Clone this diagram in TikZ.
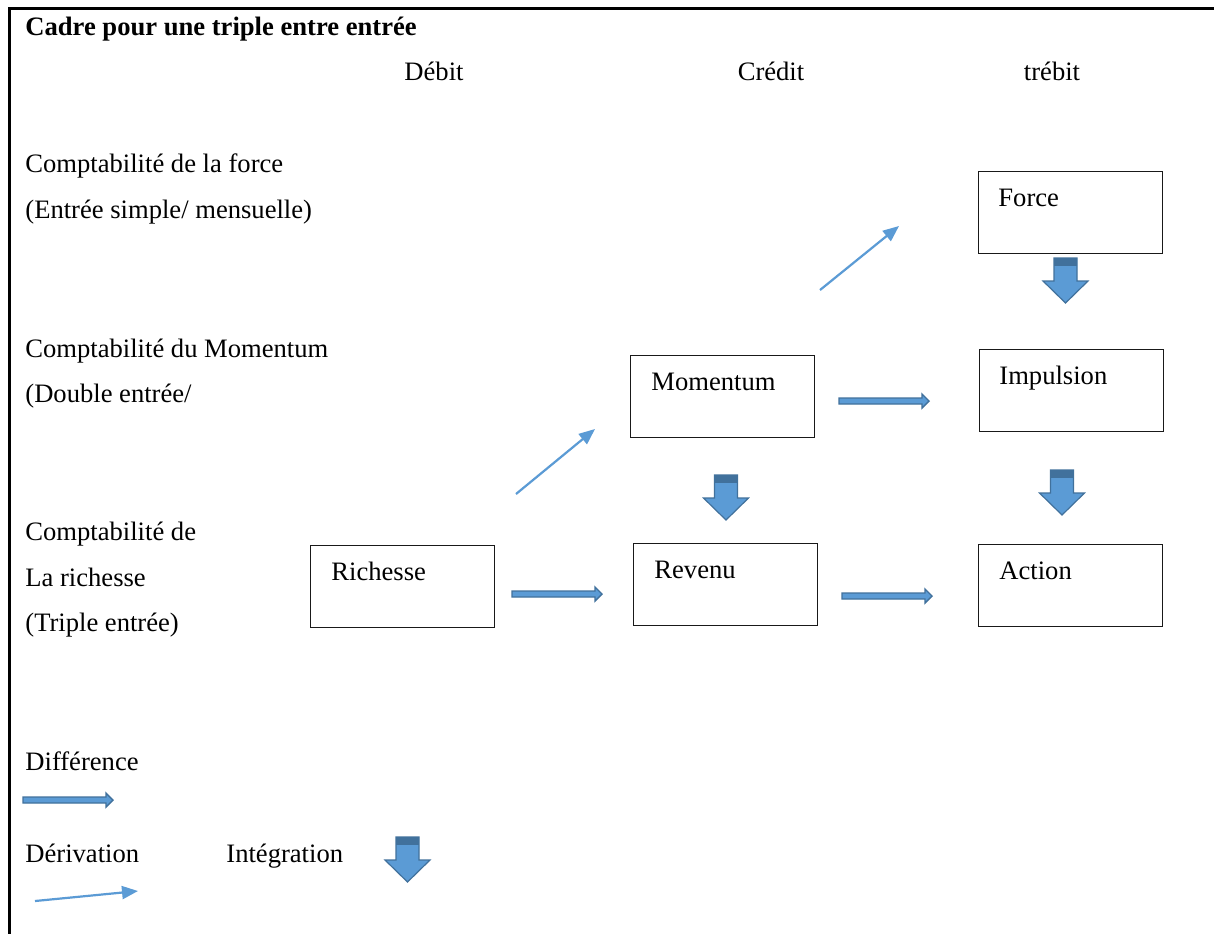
\documentclass[tikz,border=0pt]{standalone}
\usepackage{fontspec}
\setmainfont{Liberation Serif}
\usetikzlibrary{arrows.meta,calc}
\definecolor{bfill}{HTML}{5B9BD5}
\definecolor{bline}{HTML}{41719C}
\definecolor{bcap}{HTML}{41719C}
\tikzset{
  txt/.style={inner sep=0pt, anchor=base west, font=\fontsize{13.3}{16}\selectfont},
  ctxt/.style={txt, anchor=base},
  box/.style={draw=black!90, line width=0.6pt, minimum width=92pt, minimum height=41pt, inner sep=0pt, anchor=north west},
  derarrow/.style={draw=bfill, line width=1.1pt, -{Triangle[length=8pt,width=6.5pt]}},
  diffarr/.pic={
    \path[fill=bfill, draw=bline, line width=0.7pt, line join=miter]
      (0,-3) -- (83,-3) -- (83,-7) -- (90,0) -- (83,7) -- (83,3) -- (0,3) -- cycle;
  },
  intarr/.pic={
    \path[fill=bfill, draw=bline, line width=0.6pt, line join=miter]
      (-11.5,0) -- (11.5,0) -- (11.5,23) -- (22.5,23) -- (0,45) -- (-22.5,23) -- (-11.5,23) -- cycle;
    \path[fill=bcap] (-11.5,0) rectangle (11.5,8);
  }
}
\begin{document}
\begin{tikzpicture}[x=0.5pt, y=-0.5pt]
\useasboundingbox (0,0) rectangle (1214,933);
\clip (0,0) rectangle (1214,933);
\fill[white] (0,0) rectangle (1214,933);
% frame
\draw[line width=1.1pt] (9.5,945) -- (9.5,8.5) -- (1225,8.5);

% title and column heads
\node[txt, font=\fontsize{13.3}{16}\selectfont\bfseries] (title) at (25,35) {Cadre pour une triple entre entrée};
\node[ctxt] (debit) at (434,80) {Débit};
\node[ctxt] (credit) at (771,80) {Crédit};
\node[ctxt] (trebit) at (1052,80) {trébit};

% row labels
\node[txt] (l1a) at (25,172) {Comptabilité de la force};
\node[txt] (l1b) at (25,218) {(Entrée simple/ mensuelle)};
\node[txt] (l2a) at (25,357) {Comptabilité du Momentum};
\node[txt] (l2b) at (25,402) {(Double entrée/};
\node[txt] (l3a) at (25,540) {Comptabilité de};
\node[txt] (l3b) at (25,586) {La richesse};
\node[txt] (l3c) at (25,631) {(Triple entrée)};

% boxes
\node[box] (force) at (978,171) {};
\node[box] (impulsion) at (979,349) {};
\node[box] (momentum) at (630,355) {};
\node[box] (richesse) at (310,545) {};
\node[box] (revenu) at (633,543) {};
\node[box] (action) at (978,544) {};
\node[txt] (tforce) at ($(force.north west)+(20,35)$) {Force};
\node[txt] (timpulsion) at ($(impulsion.north west)+(20,35)$) {Impulsion};
\node[txt] (tmomentum) at ($(momentum.north west)+(21,35)$) {Momentum};
\node[txt] (trichesse) at ($(richesse.north west)+(21,35)$) {Richesse};
\node[txt] (trevenu) at ($(revenu.north west)+(21,35)$) {Revenu};
\node[txt] (taction) at ($(action.north west)+(21,35)$) {Action};

% derivation arrows
\coordinate (d1s) at (820,290); \coordinate (d1e) at (899,226);
\coordinate (d2s) at (516,494); \coordinate (d2e) at (595,429);
\draw[derarrow] (d1s) -- (d1e);
\draw[derarrow] (d2s) -- (d2e);

% difference arrows
\pic at (839,401) {diffarr};
\pic at (512,594) {diffarr};
\pic at (842,596) {diffarr};

% integration arrows
\pic at (1065.5,258) {intarr};
\pic at (726,475) {intarr};
\pic at (1062,470) {intarr};

% legend
\node[txt] (ldiff) at (25,770) {Différence};
\pic at (23,800) {diffarr};
\node[txt] (lder) at (25,862) {Dérivation};
\node[txt] (lint) at (226,862) {Intégration};
\coordinate (d3s) at (35,901); \coordinate (d3e) at (138,891);
\draw[derarrow] (d3s) -- (d3e);
\pic at (407.5,837) {intarr};
\end{tikzpicture}
\end{document}
